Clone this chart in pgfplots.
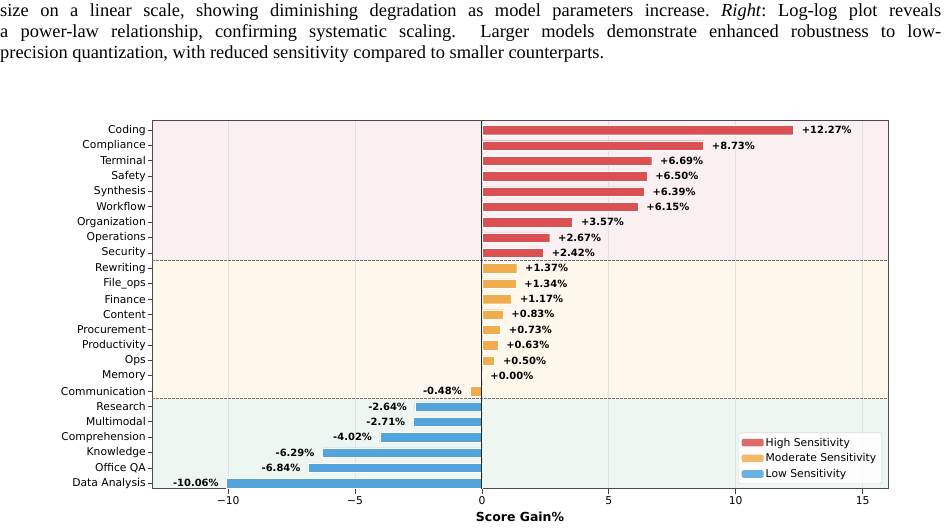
\documentclass[border=0pt]{standalone}
\usepackage{pgfplots}
\pgfplotsset{compat=1.18}
\usepackage{fontspec}
\setmainfont{DejaVu Sans}
\newfontfamily\capfont{Liberation Serif}
\definecolor{redbar}{RGB}{219,80,82}
\definecolor{orangebar}{RGB}{240,173,78}
\definecolor{bluebar}{RGB}{82,164,218}
\definecolor{pinkbg}{RGB}{250,239,241}
\definecolor{orangebg}{RGB}{254,247,236}
\definecolor{greenbg}{RGB}{237,246,241}
\pgfplotsset{
  valpos/.style={nodes near coords, point meta=explicit symbolic,
    nodes near coords style={anchor=west, xshift=5bp, font=\bfseries\fontsize{10}{12}\selectfont, text=black}},
  valneg/.style={nodes near coords, point meta=explicit symbolic,
    nodes near coords style={anchor=east, xshift=-4.5bp, font=\bfseries\fontsize{10}{12}\selectfont, text=black}},
}
\begin{document}
\begin{tikzpicture}
\begin{axis}[
  set layers,
  at={(152bp,39bp)}, anchor=south west, scale only axis,
  width=736bp, height=368bp,
  xmin=-13, xmax=16, ymin=-0.37, ymax=23.59,
  ytick={0,...,23},
  yticklabels={Data Analysis, Office QA, Knowledge, Comprehension, Multimodal, Research, Communication, Memory, Ops, Productivity, Procurement, Content, Finance, File\_ops, Rewriting, Security, Operations, Organization, Workflow, Synthesis, Safety, Terminal, Compliance, Coding},
  xtick={-10,-5,0,5,10,15},
  xticklabels={−10,−5,0,5,10,15},
  tick align=outside, xtick pos=bottom, ytick pos=left,
  major tick length=4.5bp,
  xmajorgrids, grid style={black!12, line width=0.8bp},
  axis line style={line width=1bp, black!70},
  tick style={black!75, line width=0.8bp},
  ticklabel style={font=\fontsize{10.8}{13}\selectfont},
  yticklabel style={inner xsep=1.5bp},
  xticklabel style={inner ysep=2.5bp},
  xlabel={\bfseries Score Gain\%},
  xlabel style={font=\fontsize{12.5}{15}\selectfont, inner sep=0pt, at={(axis description cs:0.5,0)}, anchor=base, yshift=-32.5bp},
  legend image code/.code={\fill[#1] (0bp,-3.8bp) rectangle (22bp,3.8bp);},
  legend cell align=left,
  legend style={at={(axis description cs:1,0)}, anchor=south east, xshift=-6bp, yshift=5bp,
    draw=black!18, rounded corners=2bp, fill=white, fill opacity=0.85, text opacity=1,
    font=\fontsize{10.8}{13}\selectfont, inner xsep=3.5bp, inner ysep=3bp,
    row sep=2bp},
]
\addplot[xbar, bar shift=0pt, bar width=0.61, fill=redbar, draw=white, line width=0.3bp, forget plot, valpos] coordinates {
  (12.27,23) [+12.27\%]
  (8.73,22) [+8.73\%]
  (6.69,21) [+6.69\%]
  (6.50,20) [+6.50\%]
  (6.39,19) [+6.39\%]
  (6.15,18) [+6.15\%]
  (3.57,17) [+3.57\%]
  (2.67,16) [+2.67\%]
  (2.42,15) [+2.42\%]
};
\addplot[xbar, bar shift=0pt, bar width=0.61, fill=orangebar, draw=white, line width=0.3bp, forget plot, valpos] coordinates {
  (1.37,14) [+1.37\%]
  (1.34,13) [+1.34\%]
  (1.17,12) [+1.17\%]
  (0.83,11) [+0.83\%]
  (0.73,10) [+0.73\%]
  (0.63,9) [+0.63\%]
  (0.50,8) [+0.50\%]
  (0.00,7) [+0.00\%]
};
\addplot[xbar, bar shift=0pt, bar width=0.61, fill=orangebar, draw=white, line width=0.3bp, forget plot, valneg] coordinates {
  (-0.48,6) [-0.48\%]
};
\addplot[xbar, bar shift=0pt, bar width=0.61, fill=bluebar, draw=white, line width=0.3bp, forget plot, valneg] coordinates {
  (-2.64,5) [-2.64\%]
  (-2.71,4) [-2.71\%]
  (-4.02,3) [-4.02\%]
  (-6.29,2) [-6.29\%]
  (-6.84,1) [-6.84\%]
  (-10.06,0) [-10.06\%]
};
\addlegendimage{fill=redbar, draw=none}
\addlegendentry{High Sensitivity}
\addlegendimage{fill=orangebar, draw=none}
\addlegendentry{Moderate Sensitivity}
\addlegendimage{fill=bluebar, draw=none}
\addlegendentry{Low Sensitivity}
\begin{pgfonlayer}{axis background}
\fill[pinkbg] (axis cs:-13,14.5) rectangle (axis cs:16,23.59);
\fill[orangebg] (axis cs:-13,5.5) rectangle (axis cs:16,14.5);
\fill[greenbg] (axis cs:-13,-0.37) rectangle (axis cs:16,5.5);
\end{pgfonlayer}
\draw[black!55, dashed, line width=0.8bp, dash pattern=on 2.5bp off 1.5bp] (axis cs:-13,14.5) -- (axis cs:16,14.5);
\draw[black!55, dashed, line width=0.8bp, dash pattern=on 2.5bp off 1.5bp] (axis cs:-13,5.5) -- (axis cs:16,5.5);
\draw[black!85, line width=1bp] (axis cs:0,-0.37) -- (axis cs:0,23.59);
\end{axis}
\node[anchor=base west, inner sep=0pt] at (0bp,511.3bp) {\capfont\fontsize{18.5}{21}\selectfont\frenchspacing\makebox[941bp][s]{size on a linear scale, showing diminishing degradation as model parameters increase. \textit{Right}: Log-log plot reveals}};
\node[anchor=base west, inner sep=0pt] at (0bp,490.4bp) {\capfont\fontsize{18.5}{21}\selectfont\frenchspacing\makebox[941bp][s]{a power-law relationship, confirming systematic scaling.\ \ Larger models demonstrate enhanced robustness to low-}};
\node[anchor=base west, inner sep=0pt] at (0bp,469.5bp) {\capfont\fontsize{18.5}{21}\selectfont precision quantization, with reduced sensitivity compared to smaller counterparts.};
\pgfresetboundingbox
\useasboundingbox (0bp,0bp) rectangle (948bp,528bp);
\end{tikzpicture}
\end{document}
